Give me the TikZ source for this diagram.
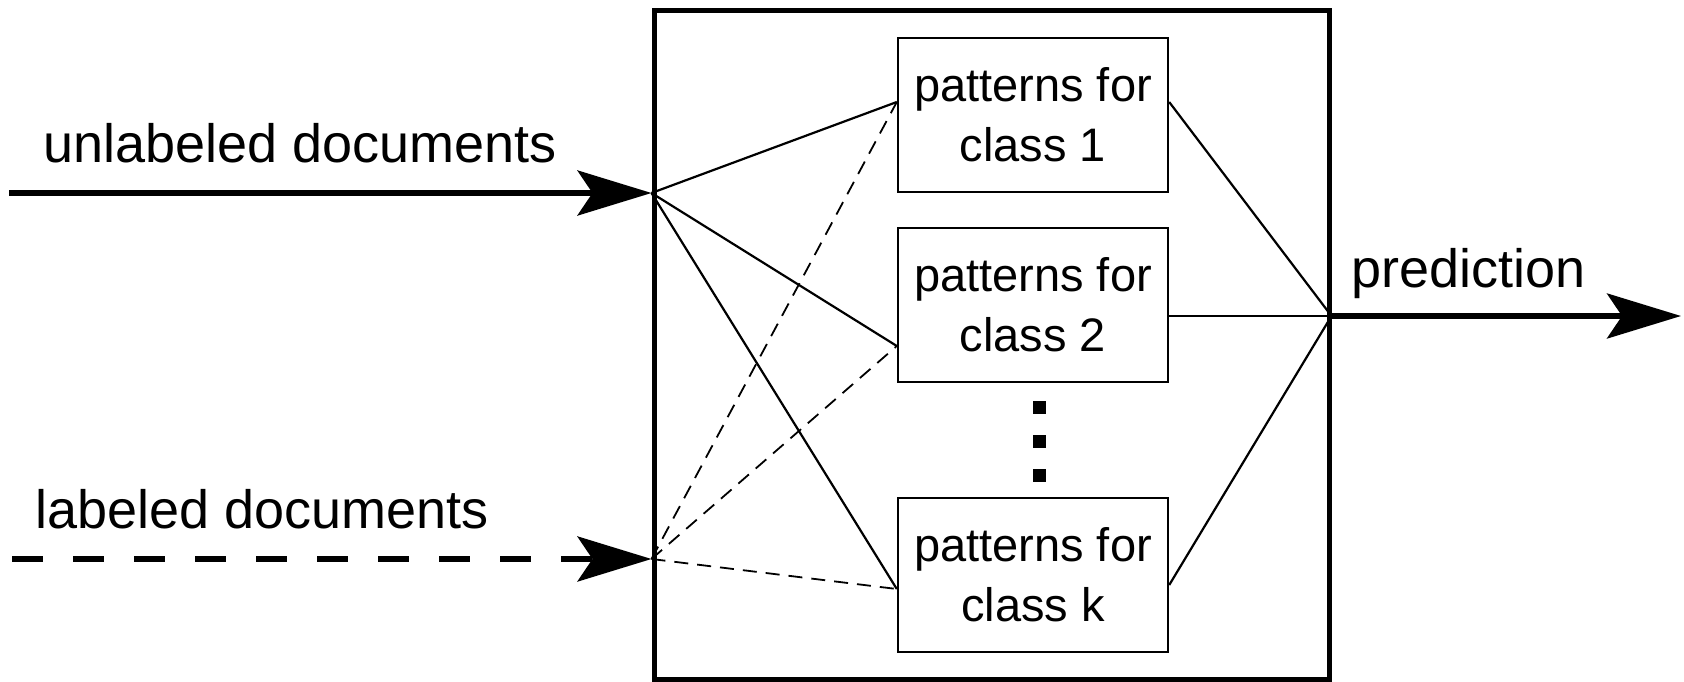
\documentclass[tikz,border=0pt]{standalone}
\usepackage{fontspec}
\setmainfont{Liberation Sans}
\usetikzlibrary{arrows.meta}
\begin{document}
\begin{tikzpicture}[x=1pt,y=-1pt,
  bigarrow/.style={line width=5.5pt,
    -{Stealth[length=74pt,width=45pt,inset=15pt]}},
  system/.style={draw,line width=5pt,inner sep=0pt,
    minimum width=675pt,minimum height=668pt},
  classbox/.style={draw,line width=2.4pt,inner sep=0pt,
    minimum width=270pt,minimum height=154pt,align=center,
    font=\fontsize{47}{60}\selectfont},
  dotsq/.style={fill=black,inner sep=0pt,minimum size=13pt},
  biglabel/.style={anchor=base west,inner sep=0pt,
    font=\fontsize{54}{65}\selectfont},
  link/.style={line width=2.2pt},
  dlink/.style={line width=1.8pt,dash pattern=on 14pt off 9pt},
]
\useasboundingbox (0,0) rectangle (1684,682);

% the system block and its per-class pattern boxes
\node[system] (sys) at (991.5,345) {};
\node[classbox] (box1) at (1033,115) {patterns for\\class 1};
\node[classbox] (box2) at (1033,305) {patterns for\\class 2};
\node[classbox] (boxk) at (1033,575) {patterns for\\class k};

% vertical ellipsis between class 2 and class k
\node[dotsq] (d1) at (1039.5,407) {};
\node[dotsq] (d2) at (1039.5,441) {};
\node[dotsq] (d3) at (1039.5,475) {};

% attachment points on the boxes
\coordinate (b1l) at ([yshift=13pt]box1.west);
\coordinate (b2l) at ([yshift=-41pt]box2.west);
\coordinate (bkl) at ([yshift=-14pt]boxk.west);
\coordinate (b1r) at ([yshift=13pt]box1.east);
\coordinate (b2r) at ([yshift=-11pt]box2.east);
\coordinate (bkr) at ([yshift=-10pt]boxk.east);

% inputs and output
\coordinate (s1) at (9,193);
\coordinate (s2) at (12,559);
\coordinate (e) at (1681,316);
\coordinate (in1) at (sys.west |- s1);
\coordinate (in2) at (sys.west |- s2);
\coordinate (out) at (sys.east |- b2r);

\draw[bigarrow] (s1) -- (in1);
\draw[bigarrow,dash pattern=on 31pt off 30pt] (s2) -- (in2);
\draw[bigarrow] (out) -- (e);

\node[biglabel] (lu) at (43,162) {unlabeled documents};
\node[biglabel] (ll) at (35,528) {labeled documents};
\node[biglabel] (lp) at (1351,287) {prediction};

% unlabeled documents feed every class
\draw[link] (in1) -- (b1l);
\draw[link] (in1) -- (b2l);
\draw[link] (in1) -- (bkl);
% labeled documents feed every class
\draw[dlink] (in2) -- (b1l);
\draw[dlink] (in2) -- (b2l);
\draw[dlink] (in2) -- (bkl);
% class outputs combine into the prediction
\draw[link] (b1r) -- (out);
\draw[link] (b2r) -- (out);
\draw[link] (bkr) -- (out);
\end{tikzpicture}
\end{document}
